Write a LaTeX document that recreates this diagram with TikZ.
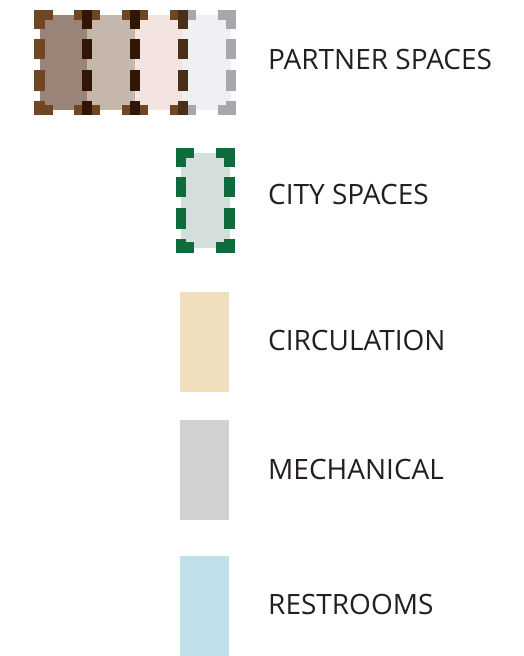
\documentclass[tikz,border=0pt]{standalone}
\usepackage{fontspec}
\setmainfont{Open Sans}
\usetikzlibrary{positioning}
\definecolor{lgBrownA}  {RGB}{154,132,120}
\definecolor{lgBrownB}  {RGB}{198,183,173}
\definecolor{lgPink}    {RGB}{243,228,225}
\definecolor{lgPale}    {RGB}{239,240,243}
\definecolor{lgEdge}    {RGB}{112, 69, 34}
\definecolor{lgEdgeDk}  {RGB}{ 50, 22,  5}
\definecolor{lgEdgeMix} {RGB}{ 74, 47, 24}
\definecolor{lgGreyEdge}{RGB}{167,168,171}
\definecolor{lgCityFill}{RGB}{212,223,219}
\definecolor{lgCityEdge}{RGB}{ 15,107, 59}
\definecolor{lgCirc}    {RGB}{240,223,189}
\definecolor{lgMech}    {RGB}{209,210,212}
\definecolor{lgRest}    {RGB}{192,224,234}
\definecolor{lgText}    {RGB}{ 35, 31, 32}

\begin{document}
\begin{tikzpicture}[x=1pt,y=-1pt,
  every node/.style={font=\fontsize{28}{32}\selectfont,text=lgText},
  sw/.style={inner sep=0pt,minimum width=48.5pt,minimum height=100pt},
  pw/.style={inner sep=0pt,minimum width=47.5pt,minimum height=94.5pt},
  lbl/.style={anchor=base west,inner sep=0pt},
  side/.style={line width=10.5pt,line cap=rect},
  vside/.style={side,dash pattern=on 8.5pt off 21pt on 9.5pt off 21.5pt on 10.5pt off 20.5pt on 3pt},
  hside/.style={side,dash pattern=on 8pt off 32.3pt on 8.2pt}
]
\useasboundingbox (0,0) rectangle (523,656);

% partner spaces
\node[pw,fill=lgBrownA] (p1) at (63.25,62.5) {};
\node[pw,fill=lgBrownB,right=0pt of p1] (p2) {};
\node[pw,fill=lgPink,right=0pt of p2] (p3) {};
\node[pw,fill=lgPale,right=0pt of p3] (p4) {};
\foreach \p/\c in {p1/lgEdge,p2/lgEdge,p3/lgEdge,p4/lgGreyEdge}{
  \draw[vside,\c] (\p.north west) -- (\p.south west);
  \draw[vside,\c] (\p.north east) -- (\p.south east);
  \draw[hside,\c] (\p.north west) -- (\p.north east);
  \draw[hside,\c] (\p.south west) -- (\p.south east);
}
\draw[vside,lgEdgeDk] (p2.north west) -- (p2.south west);
\draw[vside,lgEdgeDk] (p3.north west) -- (p3.south west);
\draw[vside,lgEdgeMix] (p4.north west) -- (p4.south west);
\node[lbl] (tp) at (268,69.3) {PARTNER SPACES};

% city spaces
\node[pw,minimum width=48.5pt,fill=lgCityFill] (cs) at (205.25,200.25) {};
\draw[vside,lgCityEdge] (cs.north west) -- (cs.south west);
\draw[vside,lgCityEdge] (cs.north east) -- (cs.south east);
\draw[hside,lgCityEdge] (cs.north west) -- (cs.north east);
\draw[hside,lgCityEdge] (cs.south west) -- (cs.south east);
\node[lbl] (tc) at (268,204.3) {CITY SPACES};

% plain swatches
\node[sw,fill=lgCirc] (ci) at (204.5,342) {};
\node[lbl] (tci) at (268,350.7) {CIRCULATION};
\node[sw,fill=lgMech] (me) at (204.5,470) {};
\node[lbl] (tme) at (268,479.3) {MECHANICAL};
\node[sw,fill=lgRest] (re) at (204.5,606) {};
\node[lbl] (tre) at (268,614.3) {RESTROOMS};
\end{tikzpicture}
\end{document}
